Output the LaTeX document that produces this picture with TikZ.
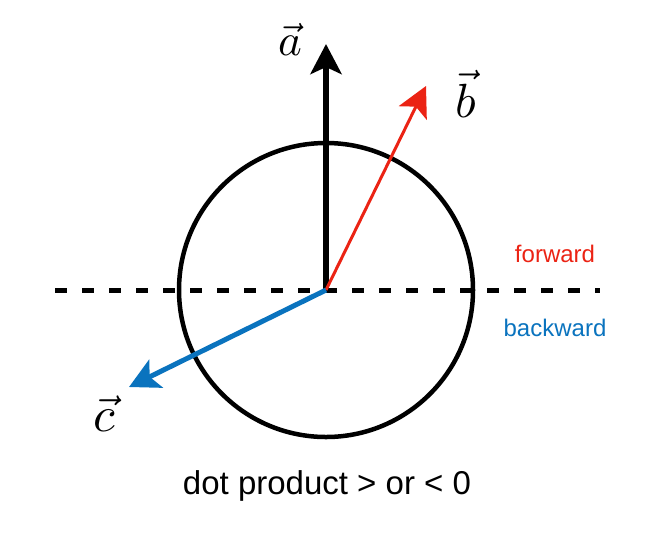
\documentclass[tikz,border=0pt]{standalone}
\usepackage{fontspec}
\setmainfont{Liberation Sans}
\usetikzlibrary{arrows.meta}
\definecolor{fwdred}{RGB}{235,35,20}
\definecolor{bwdblue}{RGB}{10,115,190}
\tikzset{
  vecarrow/.style={-{Stealth[length=30pt,width=31pt,inset=7pt]}},
  veclabel/.style={inner sep=0pt},
  sidetext/.style={font=\fontsize{24}{26}\selectfont, inner sep=0pt},
}
\begin{document}
\begin{tikzpicture}[x=1pt,y=-1pt]
\useasboundingbox (0,0) rectangle (668,539);
\coordinate (o) at (326,290);
\coordinate (ta) at (326,44);
\coordinate (tb) at (426,86);
\coordinate (tc) at (129,387);
\coordinate (dl) at (55,290);
\coordinate (dr) at (600,290);
\node[circle, draw, line width=4.5pt, minimum size=294pt, inner sep=0pt] (circ) at (o) {};
\draw[line width=5pt, dash pattern=on 12pt off 15pt] (dl) -- (dr);
\draw[vecarrow, line width=6.5pt] (o) -- (ta);
\draw[vecarrow, line width=3pt, fwdred] (o) -- (tb);
\draw[vecarrow, line width=5pt, bwdblue] (o) -- (tc);
\node[veclabel, scale=4.5] (la) at (290,39) {$\vec a$};
\node[veclabel, scale=4.8] (lb) at (466,94) {$\vec b$};
\node[veclabel, scale=5.0] (lc) at (104,414) {$\vec c$};
\node[sidetext, text=fwdred] (fw) at (555,254) {forward};
\node[sidetext, text=bwdblue] (bw) at (555,328) {backward};
\node[inner sep=0pt, font=\fontsize{33}{36}\selectfont] (dp) at (327,486) {dot product > or < 0};
\end{tikzpicture}
\end{document}
